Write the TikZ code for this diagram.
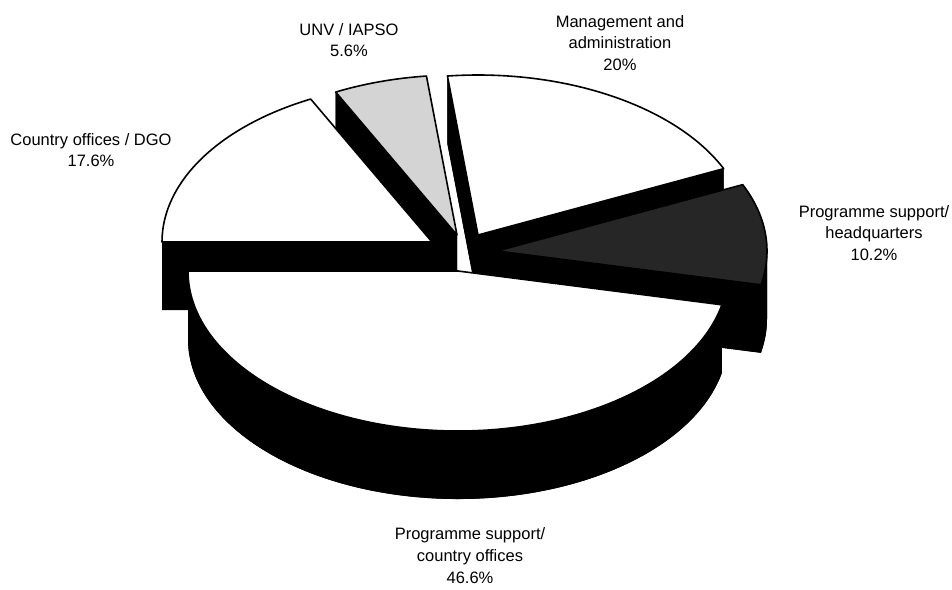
\documentclass[tikz,border=0pt]{standalone}
\usepackage{fontspec}
\setmainfont{Liberation Sans}
\def\RX{270}
\def\RY{160}
\def\DP{68}
% solid body of an exploded slice: top face, bottom face, radial side faces
\newcommand\PieSolid[4]{%
  \fill[sidefill] (#1,#2) -- ({#1+\RX*cos(#3)},{#2-\RY*sin(#3)})
    arc[start angle={-(#3)}, end angle={-(#4)}, x radius=\RX, y radius=\RY] -- cycle;
  \fill[sidefill] (#1,{#2+\DP}) -- ({#1+\RX*cos(#3)},{#2+\DP-\RY*sin(#3)})
    arc[start angle={-(#3)}, end angle={-(#4)}, x radius=\RX, y radius=\RY] -- cycle;
  \fill[sidefill] (#1,#2) -- ({#1+\RX*cos(#3)},{#2-\RY*sin(#3)})
    -- ({#1+\RX*cos(#3)},{#2+\DP-\RY*sin(#3)}) -- (#1,{#2+\DP}) -- cycle;
  \fill[sidefill] (#1,#2) -- ({#1+\RX*cos(#4)},{#2-\RY*sin(#4)})
    -- ({#1+\RX*cos(#4)},{#2+\DP-\RY*sin(#4)}) -- (#1,{#2+\DP}) -- cycle;
}
% outer wall band between angles #3 and #4
\newcommand\PieBand[4]{%
  \fill[sidefill] ({#1+\RX*cos(#3)},{#2-\RY*sin(#3)})
    arc[start angle={-(#3)}, end angle={-(#4)}, x radius=\RX, y radius=\RY]
    -- ({#1+\RX*cos(#4)},{#2+\DP-\RY*sin(#4)})
    arc[start angle={-(#4)}, end angle={-(#3)}, x radius=\RX, y radius=\RY] -- cycle;
}
% top face
\newcommand\PieTop[5]{%
  \filldraw[topface, fill=#5] (#1,#2) -- ({#1+\RX*cos(#3)},{#2-\RY*sin(#3)})
    arc[start angle={-(#3)}, end angle={-(#4)}, x radius=\RX, y radius=\RY] -- cycle;
}
\begin{document}
\begin{tikzpicture}[x=1pt, y=-1pt,
  sidefill/.style={fill=black},
  topface/.style={draw=black, line width=1.6pt, line join=round},
  lab/.style={font=\fontsize{16.5}{21.5}\selectfont, align=center, inner sep=0pt, anchor=north}]
\useasboundingbox[fill=white] (0,0) rectangle (952,589);

% Management and administration
\PieSolid{478}{235}{24.5}{96.5}
\PieBand{478}{235}{24.5}{96.5}
\PieTop{478}{235}{24.5}{96.5}{white}

% UNV / IAPSO
\PieSolid{457}{235}{96.5}{116.7}
\PieBand{457}{235}{96.5}{116.7}
\PieTop{457}{235}{96.5}{116.7}{black!17}

% Country offices / DGO
\PieSolid{432}{242}{116.7}{180}
\PieBand{432}{242}{116.7}{180}
\PieTop{432}{242}{116.7}{180}{white}

% Programme support / headquarters
\PieSolid{497}{251}{-12.2}{24.5}
\PieBand{497}{251}{-12.2}{0}
\PieBand{497}{251}{0}{24.5}
\PieTop{497}{251}{-12.2}{24.5}{black!85}

% Programme support / country offices
\PieSolid{458}{271}{180}{347.8}
\PieBand{458}{271}{180}{347.8}
\PieTop{458}{271}{180}{347.8}{white}

% labels
\node[lab] (mgmt) at (620,15) {Management and\\administration\\20\%};
\node[lab] (unv) at (349,23) {UNV / IAPSO\\5.6\%};
\node[lab] (ctry) at (91,133) {Country offices / DGO\\17.6\%};
\node[lab] (hq) at (874,205) {Programme support/\\headquarters\\10.2\%};
\node[lab, font=\fontsize{16.5}{22}\selectfont] (pco) at (470,527) {Programme support/\\country offices\\46.6\%};
\end{tikzpicture}
\end{document}
